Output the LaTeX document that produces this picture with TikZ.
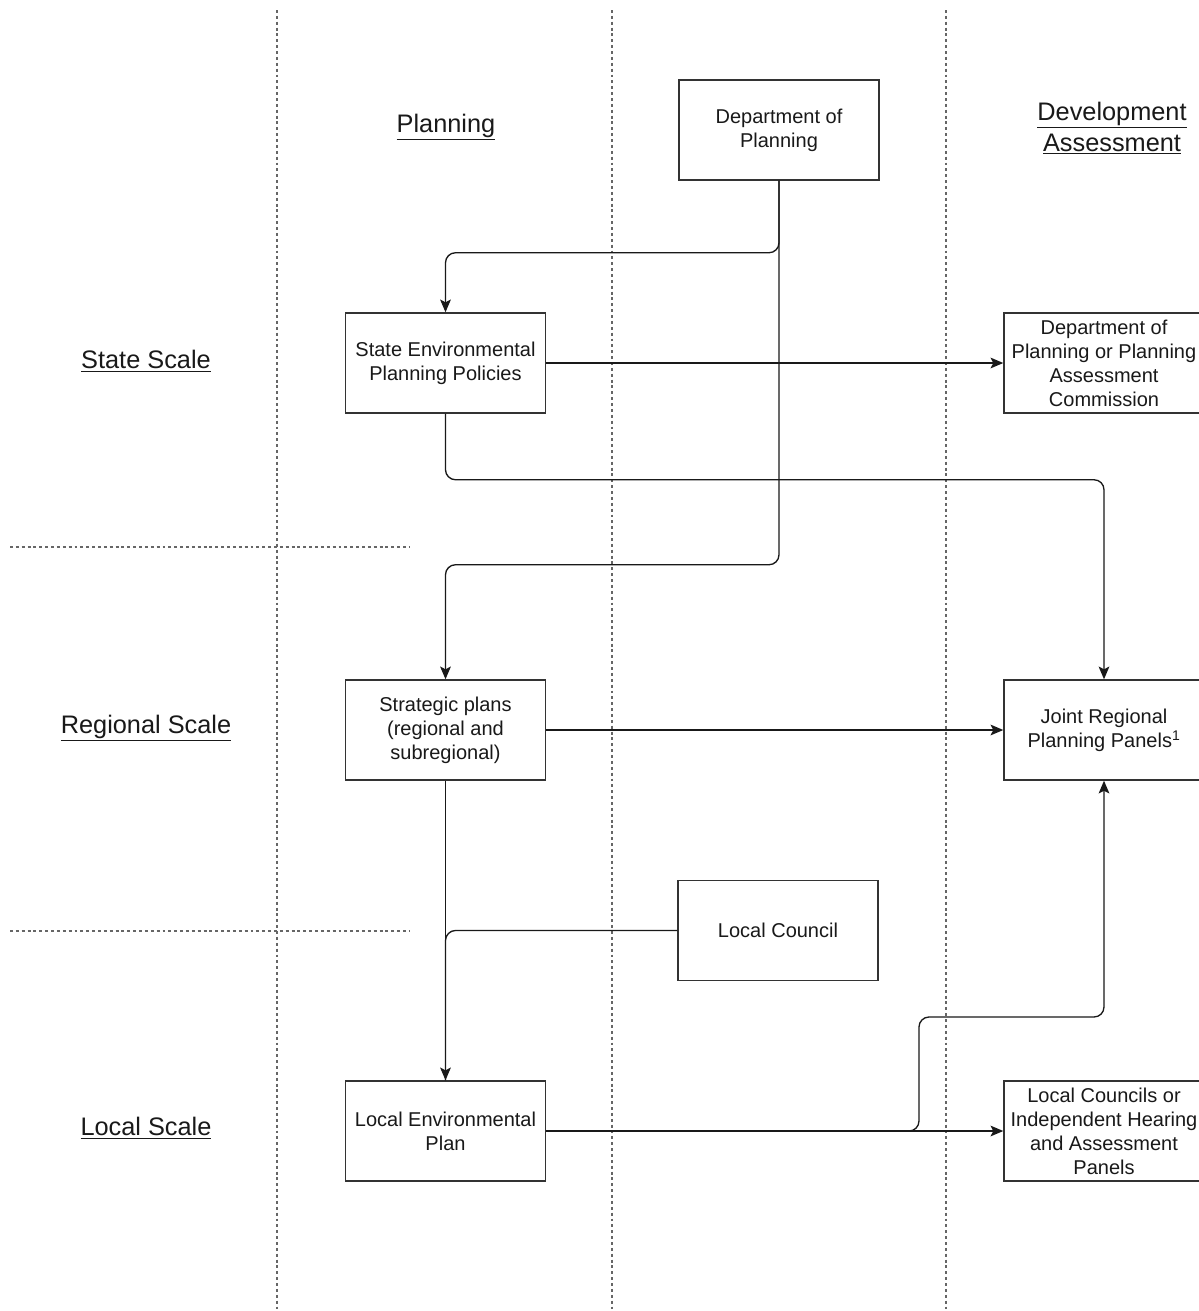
\documentclass[tikz,border=0pt]{standalone}
\usepackage{fontspec}
\setmainfont{Liberation Sans}
\usetikzlibrary{arrows.meta}
\begin{document}
\begin{tikzpicture}[x=0.75pt,y=-0.75pt,
  box/.style={draw=black!80,line width=1.1pt,minimum width=150pt,minimum height=75pt,
    align=center,inner sep=2pt,font=\fontsize{15}{18}\selectfont,text=black!90},
  hdr/.style={align=center,font=\fontsize{19}{23}\selectfont,text=black!90},
  sep/.style={draw=black!60,line width=1pt,dash pattern=on 2.2pt off 2.2pt},
  arr/.style={draw=black!90,line width=1pt,rounded corners=7.5pt,-{Stealth[length=9.5pt,width=8pt,inset=2pt]}},
  ln/.style={draw=black!90,line width=1pt,rounded corners=7.5pt}]
\useasboundingbox (0,0) rectangle (1199,1311);
\clip (0,0) rectangle (1199,1311);
\fill[white] (0,0) rectangle (1199,1311);
% separators
\draw[sep] (277,10) -- (277,1311);
\draw[sep] (612,10) -- (612,1311);
\draw[sep] (946,10) -- (946,1311);
\draw[sep] (10,547) -- (410,547);
\draw[sep] (10,931) -- (410,931);
% headers
\node[hdr] (hplan) at (446,127) {\underline{Planning}};
\node[hdr] (hda) at (1112,128) {\underline{Development}\\\underline{Assessment}};
\node[hdr] (hstate) at (146,361) {\underline{State Scale}};
\node[hdr] (hreg) at (146,728) {\underline{Regional Scale}};
\node[hdr] (hloc) at (146,1128) {\underline{Local Scale}};
% boxes
\node[box] (dop) at (779,130) {Department of\\Planning};
\node[box] (sepp) at (445.5,363) {State Environmental\\Planning Policies};
\node[box] (pac) at (1104,363) {Department of\\Planning or Planning\\Assessment\\Commission};
\node[box] (strat) at (445.5,730) {Strategic plans\\(regional and\\subregional)};
\node[box] (jrpp) at (1104,730) {Joint Regional\\Planning Panels\textsuperscript{1}};
\node[box] (lc) at (778,930.5) {Local Council};
\node[box] (lep) at (445.5,1131) {Local Environmental\\Plan};
\node[box] (ihap) at (1104,1131) {Local Councils or\\Independent Hearing\\and Assessment\\Panels};
% connectors
\draw[arr] (dop.south) -- ++(0,72) -| (sepp.north);
\draw[arr] (dop.south) -- ++(0,384) -| (strat.north);
\draw[arr] (sepp.east) -- (pac.west);
\draw[arr] (sepp.south) -- ++(0,66) -| (jrpp.north);
\draw[arr] (strat.east) -- (jrpp.west);
\draw[arr] (strat.south) -- (lep.north);
\draw[ln] (lc.west) -| (lep.north);
\draw[arr] (lep.east) -- (ihap.west);
\coordinate (jog) at (919,1017);
\draw[arr] (lep.east) -| (jog) -| (jrpp.south);
\end{tikzpicture}
\end{document}
